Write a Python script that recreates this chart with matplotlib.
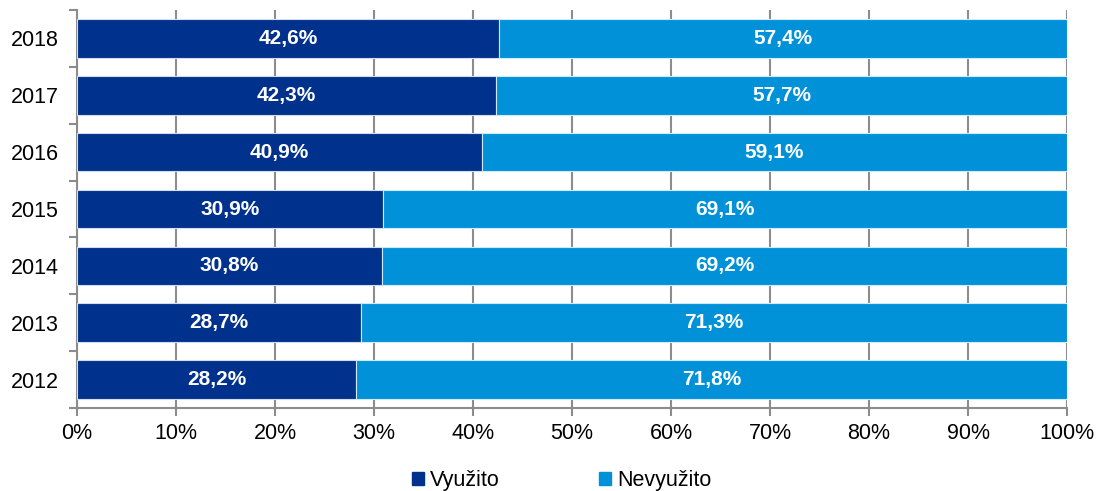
import numpy as np
import matplotlib.pyplot as plt
from matplotlib.patches import Patch

plt.rcParams['font.family'] = ['Liberation Sans', 'DejaVu Sans']

years = ['2012', '2013', '2014', '2015', '2016', '2017', '2018']
vyuzito = [28.2, 28.7, 30.8, 30.9, 40.9, 42.3, 42.6]
nevyuzito = [71.8, 71.3, 69.2, 69.1, 59.1, 57.7, 57.4]

dark = '#00318C'
light = '#0091D9'
grid_col = '#8C8C8C'

fig = plt.figure(figsize=(10.97, 4.91), dpi=100)
ax = fig.add_axes([0.0702, 0.169, 0.9025, 0.8106])

y = np.arange(len(years))
h = 0.68
ax.barh(y, vyuzito, height=h, color=dark, edgecolor='#D0DDF0', linewidth=0.8, zorder=3)
ax.barh(y, nevyuzito, left=vyuzito, height=h, color=light, edgecolor='#D0EAF8', linewidth=0.8, zorder=3)

for i in range(len(years)):
    ax.text(vyuzito[i] / 2, y[i], f'{vyuzito[i]:.1f}%'.replace('.', ','),
            ha='center', va='center', color='white', fontsize=15, fontweight='bold', zorder=4)
    ax.text(vyuzito[i] + nevyuzito[i] / 2, y[i], f'{nevyuzito[i]:.1f}%'.replace('.', ','),
            ha='center', va='center', color='white', fontsize=15, fontweight='bold', zorder=4)

ax.set_xlim(0, 100)
ax.set_ylim(-0.5, len(years) - 0.5)
ax.set_xticks(np.arange(0, 101, 10))
ax.set_xticklabels([f'{v}%' for v in range(0, 101, 10)], fontsize=15.5)
ax.set_yticks(y)
ax.set_yticklabels(years, fontsize=15.5)
ax.set_yticks(np.arange(-0.5, len(years)), minor=True)
ax.tick_params(axis='y', which='major', length=0, pad=13)
ax.tick_params(axis='y', which='minor', length=6, color=grid_col, width=1.5)
ax.tick_params(axis='x', length=6, color=grid_col, width=1.5, pad=5)

ax.xaxis.grid(True, color=grid_col, linewidth=1.5, zorder=0)
ax.set_axisbelow(True)
for side in ['top', 'right']:
    ax.spines[side].set_visible(False)
for side in ['left', 'bottom']:
    ax.spines[side].set_color(grid_col)
    ax.spines[side].set_linewidth(1.5)

handles = [Patch(color=dark, label='Využito'), Patch(color=light, label='Nevyužito')]
fig.legend(handles=handles, loc='center', bbox_to_anchor=(0.512, 0.021), ncol=2, frameon=False,
           fontsize=15.5, handlelength=0.55, handleheight=0.55, handletextpad=0.3, columnspacing=4.6)

fig.savefig('out.png', dpi=100)
